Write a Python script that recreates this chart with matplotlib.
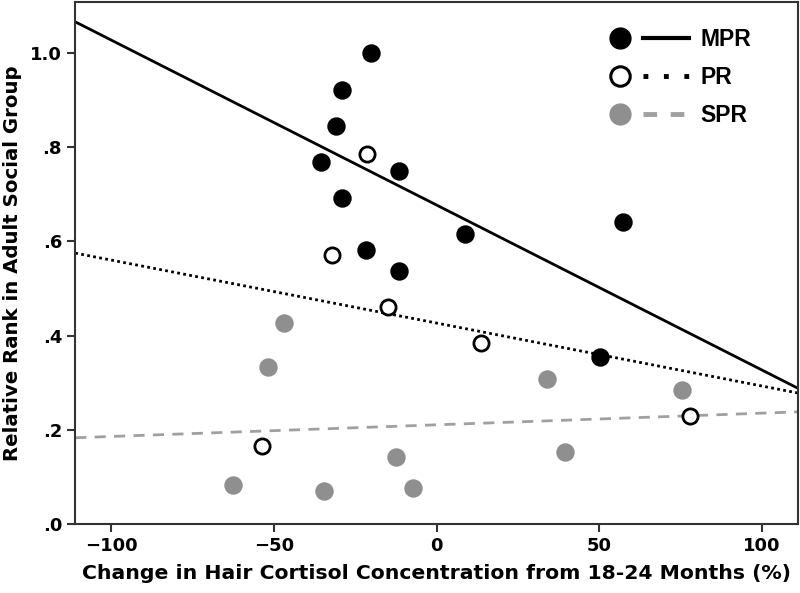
import matplotlib
matplotlib.use("Agg")
import matplotlib.pyplot as plt
from matplotlib.lines import Line2D
from matplotlib.legend_handler import HandlerTuple

# Points: x = % change in hair cortisol, y = relative rank
mpr_x = [-20.0, -29.2, -31.0, -35.4, -11.7, -29.2, -21.6, -11.5, 8.8, 57.3, 50.2]
mpr_y = [1.000, 0.921, 0.845, 0.769, 0.749, 0.692, 0.582, 0.538, 0.616, 0.642, 0.355]

pr_x = [-21.5, -32.0, -15.0, 13.5, 77.8, -53.7]
pr_y = [0.786, 0.571, 0.460, 0.384, 0.229, 0.166]

spr_x = [-47.0, -51.7, -62.5, -34.5, -12.6, -7.4, 33.8, 39.5, 75.3]
spr_y = [0.427, 0.333, 0.083, 0.071, 0.143, 0.076, 0.307, 0.153, 0.284]

# Fit-line end points (at the x-axis limits)
fit_x = [-111, 111]
mpr_fit = [1.066, 0.288]
pr_fit = [0.575, 0.278]
spr_fit = [0.183, 0.238]

GRAY = "#8f8f8f"
DASH_GRAY = "#a0a0a0"

fig = plt.figure(figsize=(8.0, 5.93), dpi=100)
ax = fig.add_axes([0.094, 0.1164, 0.9035, 0.8802])

ax.plot(fit_x, mpr_fit, "-", color="black", lw=2.0, zorder=2)
ax.plot(fit_x, pr_fit, color="black", lw=2.0, linestyle=(0, (1, 1.2)), zorder=2)
ax.plot(fit_x, spr_fit, color=DASH_GRAY, lw=2.0, linestyle=(0, (4, 3)), zorder=2)

ax.scatter(mpr_x, mpr_y, s=150, color="black", zorder=3)
ax.scatter(pr_x, pr_y, s=120, facecolor="white", edgecolor="black", lw=2.0, zorder=3)
ax.scatter(spr_x, spr_y, s=150, color=GRAY, zorder=3)

ax.set_xlim(-111, 111)
ax.set_ylim(0, 1.108)
ax.set_xticks([-100, -50, 0, 50, 100])
ax.set_xticklabels(["\u2212100", "\u221250", "0", "50", "100"])
ax.set_yticks([0, 0.2, 0.4, 0.6, 0.8, 1.0])
ax.set_yticklabels([".0", ".2", ".4", ".6", ".8", "1.0"])

for s in ax.spines.values():
    s.set_linewidth(1.5)
    s.set_color("#333333")
ax.tick_params(direction="out", length=6, width=1.5, labelsize=13, color="#333333")
for lab in ax.get_xticklabels() + ax.get_yticklabels():
    lab.set_fontweight("bold")

ax.set_xlabel("Change in Hair Cortisol Concentration from 18-24 Months (%)",
              fontsize=14.7, fontweight="bold", labelpad=6)
ax.set_ylabel("Relative Rank in Adult Social Group",
              fontsize=14.2, fontweight="bold", labelpad=6)

# legend: marker on the left, line sample to its right
mk = [
    Line2D([], [], ls="none", marker="o", markersize=15, color="black"),
    Line2D([], [], ls="none", marker="o", markersize=14, markerfacecolor="white",
           markeredgecolor="black", markeredgewidth=2.2),
    Line2D([], [], ls="none", marker="o", markersize=15, color=GRAY),
]
ln = [
    Line2D([], [], color="black", lw=3),
    Line2D([], [], color="black", lw=3.5, linestyle=(0, (1, 3.2))),
    Line2D([], [], color=DASH_GRAY, lw=3.5, linestyle=(0, (2.8, 2.8))),
]
leg = ax.legend([(m, l) for m, l in zip(mk, ln)], ["MPR", "PR", "SPR"],
                handler_map={tuple: HandlerTuple(ndivide=None, pad=0.0)},
                loc="upper right", frameon=False,
                prop={"family": "Liberation Sans", "weight": "bold", "size": 16.5},
                handlelength=4.0, handletextpad=0.5, labelspacing=0.66,
                borderaxespad=0, bbox_to_anchor=(0.948, 0.968))

fig.savefig("out.png", dpi=100)
